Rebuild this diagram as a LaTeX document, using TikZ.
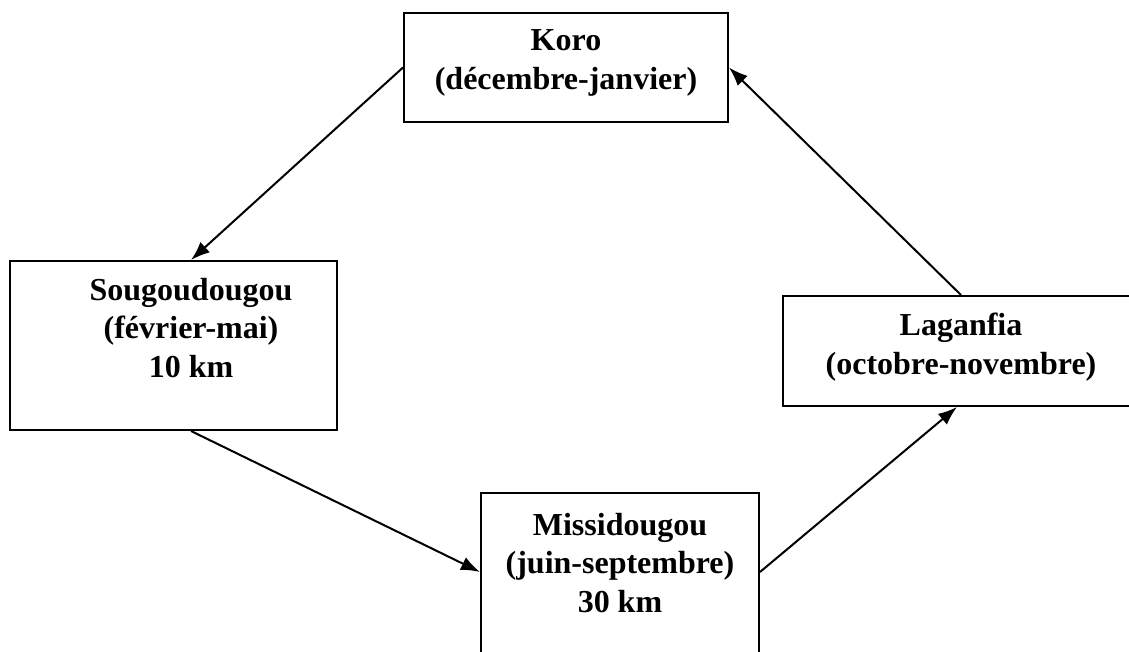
\documentclass[tikz,border=0pt]{standalone}
\usepackage{fontspec}
\setmainfont{Liberation Serif}
\usetikzlibrary{arrows.meta, positioning, calc}

\begin{document}
\begin{tikzpicture}[
        x=1pt,
        y=-1pt,
        place/.style={
            draw,
            line width=2pt,
            inner sep=0pt
        },
        placetext/.style={
            align=center,
            font=\fontsize{32}{38.5}\selectfont\bfseries
        },
        move/.style={
            -{Latex[length=19pt, width=14pt]},
            line width=2pt
        }
    ]

        \clip (0,0) rectangle (1129,651);

        % ---------------------------------------------------------------------
        % Places of the yearly cycle
        % ---------------------------------------------------------------------

        \node[
            place,
            minimum width=324pt,
            minimum height=109pt
        ] (koro) at (566,67.5) {};
        \node[placetext] (korotext) at (566,63) {
            Koro\\
            (décembre-janvier)
        };

        \node[
            place,
            minimum width=327pt,
            minimum height=169pt
        ] (sougou) at (173.5,345.5) {};
        \node[placetext] (sougoutext) at (191,328) {
            Sougoudougou\\
            (février-mai)\\
            10 km
        };

        \node[
            place,
            minimum width=278pt,
            minimum height=207pt
        ] (missi) at (620,596.5) {};
        \node[placetext] (missitext) at (620,563) {
            Missidougou\\
            (juin-septembre)\\
            30 km
        };

        \node[
            place,
            minimum width=357pt,
            minimum height=110pt
        ] (laganfia) at (961.5,351) {};
        \node[placetext] (laganfiatext) at (961,347) {
            Laganfia\\
            (octobre-novembre)
        };

        % ---------------------------------------------------------------------
        % Moves from one place to the next
        % ---------------------------------------------------------------------

        \draw[move] (koro.west) -- (sougoutext |- sougou.north);

        \draw[move]
            (sougoutext |- sougou.south)
            --
            ($(missi.north west)+(0,80)$);

        \draw[move]
            ($(missi.north east)+(0,80)$)
            --
            ($(laganfiatext |- laganfia.south)+(-4,0)$);

        \draw[move] (laganfiatext |- laganfia.north) -- (koro.east);

    \end{tikzpicture}
\end{document}
